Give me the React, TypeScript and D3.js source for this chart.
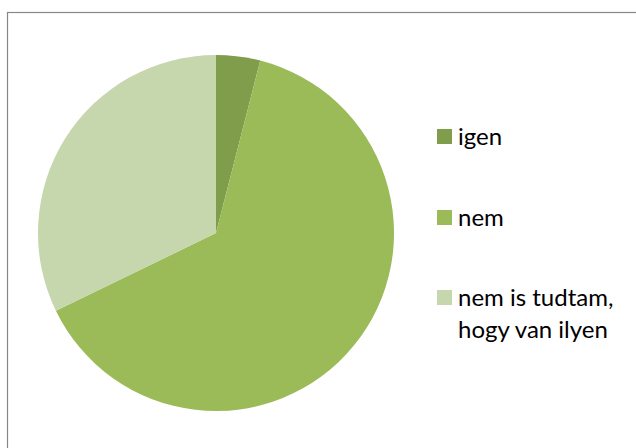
import React from "react";
import * as d3 from "d3";

const categories = ["igen", "nem", "nem is tudtam, hogy van ilyen"];
const values = [4.0, 63.8, 32.2];
const colors = ["#7F9D4A", "#9BBB59", "#C6D6AD"];
const legendLines = [["igen"], ["nem"], ["nem is tudtam,", "hogy van ilyen"]];

export default function App() {
  const W = 636, H = 448;
  const cx = 216, cy = 233, r = 178;
  const pie = d3.pie<number>().sort(null).startAngle(0).endAngle(2 * Math.PI)(values);
  const arc = d3.arc<d3.PieArcDatum<number>>().innerRadius(0).outerRadius(r);
  const legendY = [129, 210, 290];
  const font = "Lato, 'Open Sans', sans-serif";
  return (
    <svg width={W} height={H} style={{ position: "absolute", left: 0, top: 0, background: "#fff" }}>
      <rect x={7.5} y={12.5} width={W} height={H} fill="#fff" stroke="#878787" strokeWidth={1.2} />
      <g transform={`translate(${cx},${cy})`}>
        {pie.map((d, i) => (
          <path key={categories[i]} d={arc(d) || ""} fill={colors[i]} />
        ))}
      </g>
      {categories.map((c, i) => (
        <g key={c}>
          <rect x={437} y={legendY[i]} width={15} height={15} fill={colors[i]} />
          <text x={458} y={legendY[i] + 16} fontFamily={font} fontSize={24} fill="#000">
            {legendLines[i].map((ln, j) => (
              <tspan key={j} x={458} dy={j === 0 ? 0 : 31.7}>{ln}</tspan>
            ))}
          </text>
        </g>
      ))}
    </svg>
  );
}
